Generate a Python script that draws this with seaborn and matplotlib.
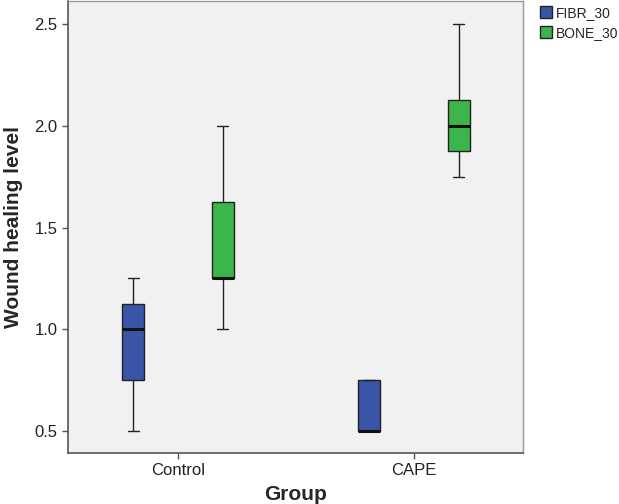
import pandas as pd
import seaborn as sns
import matplotlib
import matplotlib.pyplot as plt
from matplotlib.patches import Patch

matplotlib.use('Agg')
sns.set_style("white")
plt.rcParams['font.family'] = ['Liberation Sans', 'DejaVu Sans']

groups = ["Control", "CAPE"]
series = ["FIBR_30", "BONE_30"]
colors = ["#3a55a8", "#3cb64a"]

# raw scores per group / series (chosen to reproduce the box statistics)
control_fibr = [0.5, 0.5, 1.0, 1.0, 1.0, 1.25, 1.25]
control_bone = [1.0, 1.25, 1.25, 1.25, 1.5, 1.75, 2.0]
cape_fibr = [0.5, 0.5, 0.5, 0.5, 0.75, 0.75, 0.75]
cape_bone = [1.75, 1.75, 2.0, 2.0, 2.0, 2.25, 2.5]

rows = []
for grp, ser, vals in [("Control", "FIBR_30", control_fibr),
                       ("Control", "BONE_30", control_bone),
                       ("CAPE", "FIBR_30", cape_fibr),
                       ("CAPE", "BONE_30", cape_bone)]:
    for v in vals:
        rows.append({"Group": grp, "Series": ser, "Value": v})
df = pd.DataFrame(rows)

fig = plt.figure(figsize=(6.19, 5.04), dpi=100)
ax = fig.add_axes([68 / 619, 51 / 504, 455 / 619, 452 / 504])
ax.set_facecolor("#f1f1f1")

sns.boxplot(data=df, x="Group", y="Value", hue="Series", order=groups,
            hue_order=series, palette=colors, saturation=1, width=0.76, gap=0.75,
            linewidth=1.0, linecolor="#222222", whis=1.5,
            medianprops={"color": "#111111", "linewidth": 2.2},
            legend=False, ax=ax)

ax.set_xlim(-0.466, 1.462)
ax.set_ylim(0.392, 2.613)
ax.set_yticks([0.5, 1.0, 1.5, 2.0, 2.5])
ax.set_yticklabels(["0.5", "1.0", "1.5", "2.0", "2.5"])
ax.tick_params(axis="both", direction="out", length=4, width=1, color="#555555",
               labelsize=12, labelcolor="#222222")
ax.tick_params(left=True, bottom=True)
ax.set_xlabel("Group", fontsize=15, fontweight="bold", labelpad=5)
ax.set_ylabel("Wound healing level", fontsize=15, fontweight="bold", labelpad=8)

for side in ["left", "bottom"]:
    ax.spines[side].set_color("#555555")
    ax.spines[side].set_linewidth(1.2)
for side in ["top", "right"]:
    ax.spines[side].set_color("#999999")
    ax.spines[side].set_linewidth(1.0)

handles = [Patch(facecolor=c, edgecolor="#222222", label=s) for c, s in zip(colors, series)]
fig.legend(handles=handles, loc="upper left", bbox_to_anchor=(537 / 619, 0.994),
           frameon=False, fontsize=10, handlelength=0.9, handleheight=0.9,
           handletextpad=0.25, labelspacing=0.45, borderpad=0.2, borderaxespad=0)

plt.savefig("out.png", dpi=100)
plt.close()
